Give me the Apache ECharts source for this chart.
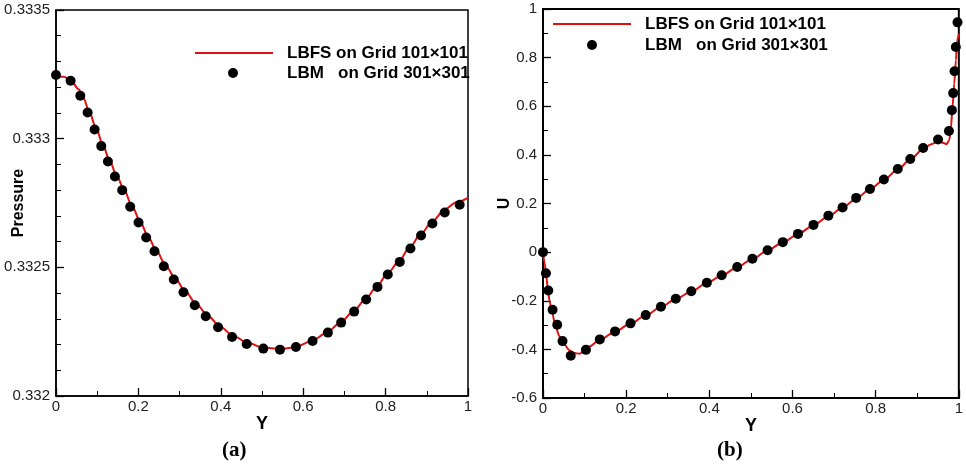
<!DOCTYPE html>
<html><head><meta charset="utf-8">
<script src="https://cdn.jsdelivr.net/npm/echarts@6/dist/echarts.min.js"></script>
<style>html,body{margin:0;padding:0;background:#fff}#c{width:966px;height:471px}</style>
</head><body><div id="c"></div>
<script>
// ---------- data ----------
const lineName = 'LBFS on Grid 101×101';
const dotName = 'LBM   on Grid 301×301';
const xTicks = [0, 0.2, 0.4, 0.6, 0.8, 1];
const pressureTicks = [0.332, 0.3325, 0.333, 0.3335];
const uTicks = [-0.6, -0.4, -0.2, 0, 0.2, 0.4, 0.6, 0.8, 1];

// panel (a): pressure, LBFS line
const pLineY = [0, 0.0186, 0.0355, 0.0549, 0.0670, 0.0792, 0.0977, 0.1139, 0.1300, 0.1470, 0.1648, 0.1842, 0.2044, 0.2229, 0.2431, 0.2658, 0.2900, 0.3134, 0.3409, 0.3675, 0.3974, 0.4305, 0.4661, 0.5032, 0.5436, 0.5800, 0.6204, 0.6567, 0.6890, 0.7213, 0.7504, 0.7779, 0.8037, 0.8320, 0.8578, 0.8861, 0.9136, 0.9435, 0.9717, 1.0];
const pLineP = [0.333243, 0.333241, 0.333228, 0.333192, 0.333157, 0.333111, 0.333040, 0.332975, 0.332915, 0.332857, 0.332804, 0.332739, 0.332678, 0.332621, 0.332567, 0.332508, 0.332456, 0.332407, 0.332357, 0.332314, 0.332271, 0.332233, 0.332206, 0.332188, 0.332183, 0.332189, 0.332214, 0.332245, 0.332284, 0.332327, 0.332375, 0.332424, 0.332473, 0.332524, 0.332576, 0.332631, 0.332679, 0.332725, 0.332753, 0.332770];
// panel (a): pressure, LBM dots
const pDotY = [0, 0.0355, 0.059, 0.0767, 0.0937, 0.1099, 0.126, 0.143, 0.1607, 0.1801, 0.2003, 0.2189, 0.2391, 0.2617, 0.2859, 0.3094, 0.3368, 0.3635, 0.3934, 0.4273, 0.4628, 0.5032, 0.5436, 0.5824, 0.6228, 0.6599, 0.6922, 0.7237, 0.7528, 0.7803, 0.8053, 0.8344, 0.8603, 0.8861, 0.9136, 0.9435, 0.9798];
const pDotP = [0.3332472, 0.3332252, 0.3331669, 0.333102, 0.3330359, 0.3329711, 0.3329114, 0.3328531, 0.3328, 0.3327351, 0.3326742, 0.3326158, 0.3325627, 0.3325043, 0.3324525, 0.3324032, 0.3323527, 0.3323099, 0.3322671, 0.3322295, 0.3322023, 0.3321841, 0.3321802, 0.3321906, 0.3322139, 0.3322463, 0.3322852, 0.332328, 0.3323747, 0.332424, 0.3324719, 0.3325212, 0.3325731, 0.3326236, 0.3326703, 0.3327131, 0.3327429];

// panel (b): U, LBFS line
const uLineY = [0, 0.0040, 0.0079, 0.0119, 0.0159, 0.0222, 0.0302, 0.0397, 0.0516, 0.0635, 0.0755, 0.0874, 0.0993, 0.1112, 0.1366, 0.1732, 0.2105, 0.2470, 0.2836, 0.3193, 0.3566, 0.3940, 0.4297, 0.4670, 0.5036, 0.5401, 0.5766, 0.6132, 0.6505, 0.6863, 0.7204, 0.7530, 0.7863, 0.8197, 0.8531, 0.8832, 0.9142, 0.9333, 0.9500, 0.9611, 0.9706, 0.9770, 0.9809, 0.9849, 0.9889, 0.9929, 0.9960, 1.0];
const uLineU = [0, -0.046, -0.100, -0.155, -0.203, -0.251, -0.306, -0.347, -0.381, -0.404, -0.415, -0.418, -0.408, -0.388, -0.361, -0.327, -0.294, -0.260, -0.226, -0.193, -0.162, -0.127, -0.096, -0.062, -0.028, 0.007, 0.040, 0.074, 0.111, 0.148, 0.183, 0.220, 0.259, 0.297, 0.340, 0.381, 0.424, 0.444, 0.455, 0.450, 0.444, 0.461, 0.509, 0.598, 0.693, 0.789, 0.871, 0.899];
// panel (b): U, LBM dots
const uDotY = [0, 0.0071, 0.0127, 0.0230, 0.0342, 0.0469, 0.0667, 0.1033, 0.1366, 0.1732, 0.2105, 0.2470, 0.2836, 0.3193, 0.3566, 0.3940, 0.4297, 0.4670, 0.5036, 0.5401, 0.5766, 0.6132, 0.6505, 0.6863, 0.7204, 0.7530, 0.7863, 0.8197, 0.8531, 0.8832, 0.9142, 0.9500, 0.9762, 0.9833, 0.9865, 0.9897, 0.9928, 0.9968];
const uDotU = [0, -0.087, -0.158, -0.237, -0.299, -0.366, -0.426, -0.402, -0.359, -0.326, -0.293, -0.259, -0.225, -0.192, -0.161, -0.126, -0.095, -0.061, -0.027, 0.008, 0.041, 0.075, 0.112, 0.150, 0.184, 0.223, 0.260, 0.299, 0.342, 0.383, 0.428, 0.463, 0.498, 0.584, 0.654, 0.744, 0.844, 0.945];

// ---------- chart ----------
const zip = (a, b) => a.map((v, i) => [v, b[i]]);
const RED = '#e01010';
const FONT = 'Liberation Sans';
const legendText = (pad) => ({fontFamily: FONT, fontWeight: 'bold', fontSize: 17, color: '#000', lineHeight: 20, padding: [0, 0, 0, pad]});

function xAxisOpt(gi, lw) {
  return {
    type: 'value', gridIndex: gi, min: xTicks[0], max: xTicks[xTicks.length - 1], interval: 0.2,
    name: 'Y', nameLocation: 'middle', nameGap: 19, nameMoveOverlap: false,
    nameTextStyle: {fontFamily: FONT, fontWeight: 'bold', fontSize: 18, color: '#000'},
    axisLine: {show: true, onZero: false, lineStyle: {color: '#000', width: lw}},
    axisTick: {show: true, inside: true, length: 8, lineStyle: {color: '#000', width: 1.3}},
    minorTick: {show: true, splitNumber: 2, length: 5, lineStyle: {color: '#000', width: 1}},
    splitLine: {show: false},
    axisLabel: {margin: 3, fontFamily: FONT, fontSize: 15, color: '#222'}
  };
}
function yAxisOpt(gi, ticks, interval, minorSplit, name, nameGap, lw) {
  return {
    type: 'value', gridIndex: gi, min: ticks[0], max: ticks[ticks.length - 1], interval: interval,
    name: name, nameLocation: 'middle', nameGap: nameGap, nameRotate: 90, nameMoveOverlap: false,
    nameTextStyle: {fontFamily: FONT, fontWeight: 'bold', fontSize: 16, color: '#000'},
    axisLine: {show: true, onZero: false, lineStyle: {color: '#000', width: lw}},
    axisTick: {show: true, inside: true, length: 8, lineStyle: {color: '#000', width: 1.3}},
    minorTick: {show: true, splitNumber: minorSplit, length: 5, lineStyle: {color: '#000', width: 1}},
    splitLine: {show: false},
    axisLabel: {margin: 6, fontFamily: FONT, fontSize: 15, color: '#222'}
  };
}

const option = {
  backgroundColor: '#fff',
  animation: false,
  title: [
    {text: '(a)', left: 222, top: 440, padding: 0, textStyle: {fontFamily: 'Liberation Serif', fontWeight: 'bold', fontSize: 21, color: '#000'}},
    {text: '(b)', left: 717, top: 440, padding: 0, textStyle: {fontFamily: 'Liberation Serif', fontWeight: 'bold', fontSize: 21, color: '#000'}}
  ],
  legend: [
    {data: [{name: lineName, icon: 'rect'}], left: 195, top: 43, padding: 0, itemWidth: 78, itemHeight: 2, textStyle: legendText(9), selectedMode: false},
    {data: [{name: dotName, icon: 'circle'}], left: 228, top: 63, padding: 0, itemWidth: 10, itemHeight: 10, textStyle: legendText(44), selectedMode: false},
    {data: [{name: lineName, icon: 'rect'}], left: 553, top: 14, padding: 0, itemWidth: 78, itemHeight: 2, textStyle: legendText(9), selectedMode: false},
    {data: [{name: dotName, icon: 'circle'}], left: 587, top: 35, padding: 0, itemWidth: 10, itemHeight: 10, textStyle: legendText(43), selectedMode: false}
  ],
  grid: [
    {left: 56, top: 10, width: 412, height: 386, show: true, borderColor: '#000', borderWidth: 1.5, backgroundColor: 'transparent'},
    {left: 543, top: 9, width: 420, height: 389, show: true, borderColor: '#000', borderWidth: 2, backgroundColor: 'transparent'}
  ],
  xAxis: [xAxisOpt(0, 1.5), xAxisOpt(1, 2)],
  yAxis: [
    yAxisOpt(0, pressureTicks, 0.0005, 5, 'Pressure', 29, 1.5),
    yAxisOpt(1, uTicks, 0.2, 2, 'U', 30, 2)
  ],
  series: [
    {name: lineName, type: 'line', xAxisIndex: 0, yAxisIndex: 0, data: zip(pLineY, pLineP), symbol: 'none', smooth: 0.3, smoothMonotone: 'x', lineStyle: {color: RED, width: 2}, itemStyle: {color: RED}, z: 2},
    {name: dotName, type: 'scatter', xAxisIndex: 0, yAxisIndex: 0, data: zip(pDotY, pDotP), symbol: 'circle', symbolSize: 10, itemStyle: {color: '#000', opacity: 1}, z: 3},
    {name: lineName, type: 'line', xAxisIndex: 1, yAxisIndex: 1, data: zip(uLineY, uLineU), symbol: 'none', smooth: 0.3, smoothMonotone: 'x', lineStyle: {color: RED, width: 2}, itemStyle: {color: RED}, z: 2},
    {name: dotName, type: 'scatter', xAxisIndex: 1, yAxisIndex: 1, data: zip(uDotY, uDotU), symbol: 'circle', symbolSize: 10, itemStyle: {color: '#000', opacity: 1}, z: 3}
  ]
};
const chart = echarts.init(document.getElementById('c'), null, {renderer: 'canvas'});
chart.setOption(option);
</script>
</body></html>
